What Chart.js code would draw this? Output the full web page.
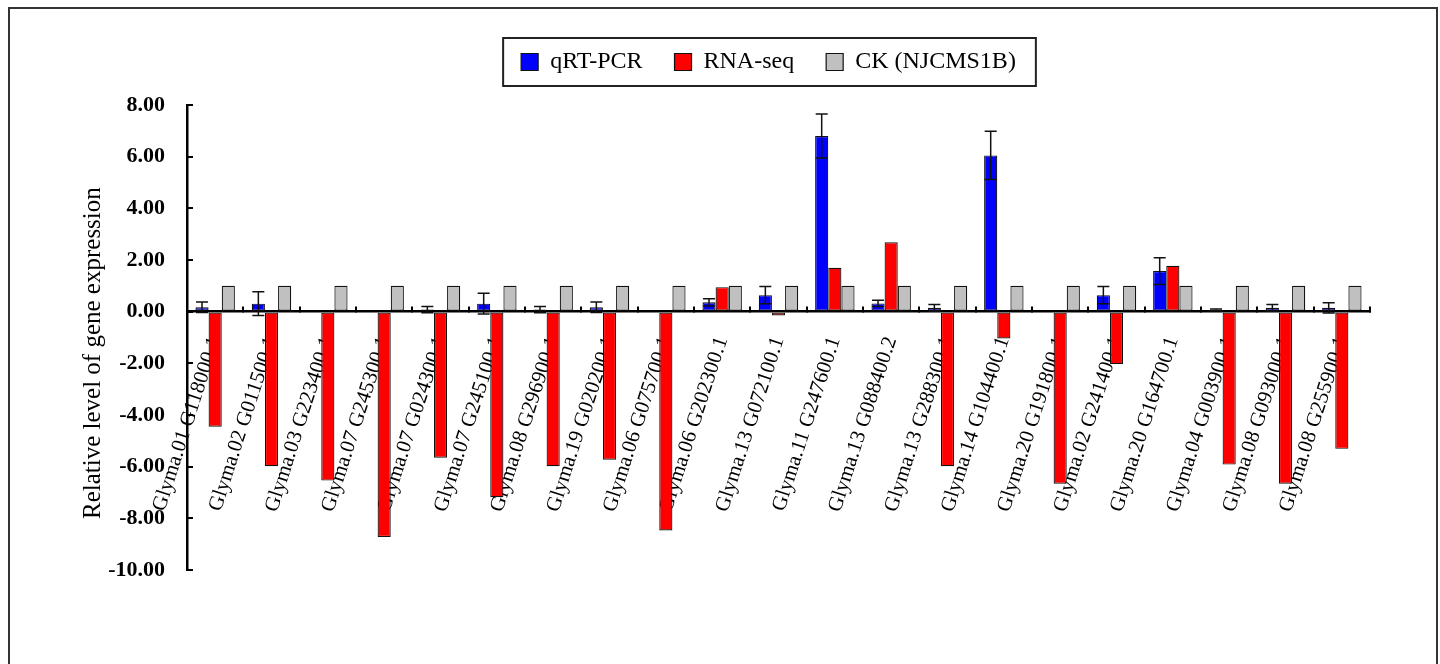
<!DOCTYPE html>
<html>
<head>
<meta charset="utf-8">
<title>Relative gene expression</title>
<script src="https://cdn.jsdelivr.net/npm/chart.js@4.4.1/dist/chart.umd.min.js"></script>
<style>
  html, body { margin: 0; padding: 0; background: #fff; }
  #wrap { position: relative; width: 1440px; height: 664px; overflow: hidden; }
  #frame { position: absolute; left: 8px; top: 7px; width: 1430px; height: 700px; border: 2px solid #333; box-sizing: border-box; }
  #chart { position: absolute; left: 0; top: 0; }
</style>
</head>
<body>
<div id="wrap">
  <div id="frame"></div>
  <canvas id="chart" width="1440" height="664"></canvas>
</div>
<script>
// gene ids on the x axis
const genes = [
  "Glyma.01 G118000.1", "Glyma.02 G011500.1", "Glyma.03 G223400.1", "Glyma.07 G245300.1",
  "Glyma.07 G024300.1", "Glyma.07 G245100.1", "Glyma.08 G296900.1", "Glyma.19 G020200.1",
  "Glyma.06 G075700.1", "Glyma.06 G202300.1", "Glyma.13 G072100.1", "Glyma.11 G247600.1",
  "Glyma.13 G088400.2", "Glyma.13 G288300.1", "Glyma.14 G104400.1", "Glyma.20 G191800.1",
  "Glyma.02 G241400.1", "Glyma.20 G164700.1", "Glyma.04 G003900.1", "Glyma.08 G093000.1",
  "Glyma.08 G255900.1"
];
const qrt    = [0.17, 0.31, 0, 0, 0.08, 0.31, 0.08, 0.17, 0, 0.36, 0.64, 6.80, 0.32, 0.15, 6.05, 0, 0.64, 1.57, 0.07, 0.15, 0.15];
const qrtErr = [0.20, 0.46, 0, 0, 0.12, 0.40, 0.12, 0.20, 0, 0.14, 0.33, 0.85, 0.12, 0.13, 0.93, 0, 0.33, 0.52, 0.03, 0.13, 0.20];
const rnaSeq = [-4.45, -5.98, -6.54, -8.72, -5.65, -7.18, -5.98, -5.73, -8.47, 0.95, -0.15, 1.70, 2.69, -5.98, -1.04, -6.66, -2.03, 1.78, -5.92, -6.66, -5.31];
const ck     = [1, 1, 1, 1, 1, 1, 1, 1, 1, 1, 1, 1, 1, 1, 1, 1, 1, 1, 1, 1, 1];
const yTicks = { min: -10, max: 8, step: 2 };

Chart.defaults.font.family = "'Liberation Serif', 'Times New Roman', serif";
Chart.defaults.color = '#000';

// error bars on the qRT-PCR bars
const errorBars = {
  id: 'errorBars',
  afterDatasetsDraw(chart) {
    const meta = chart.getDatasetMeta(0);
    const y = chart.scales.y;
    const ctx = chart.ctx;
    ctx.save();
    ctx.strokeStyle = '#111';
    ctx.lineWidth = 1.5;
    meta.data.forEach((bar, i) => {
      const e = qrtErr[i];
      if (!e) return;
      const top = y.getPixelForValue(qrt[i] + e);
      const bot = y.getPixelForValue(qrt[i] - e);
      ctx.beginPath();
      ctx.moveTo(bar.x, top); ctx.lineTo(bar.x, bot);
      ctx.moveTo(bar.x - 6, top); ctx.lineTo(bar.x + 6, top);
      ctx.moveTo(bar.x - 6, bot); ctx.lineTo(bar.x + 6, bot);
      ctx.stroke();
    });
    ctx.restore();
  }
};

// extra room under the legend, and nudge it a little left
const legendGap = {
  id: 'legendGap',
  beforeInit(chart) {
    const fit = chart.legend.fit;
    chart.legend.fit = function () {
      fit.call(this);
      this.height += 21;
    };
  },
  afterLayout(chart) {
    chart.legend.left -= 10;
    chart.legend.right -= 10;
  }
};

// box around the legend
const legendFrame = {
  id: 'legendFrame',
  afterDraw(chart) {
    const boxes = chart.legend && chart.legend.legendHitBoxes;
    if (!boxes || !boxes.length) return;
    const left = Math.min(...boxes.map(b => b.left));
    const right = Math.max(...boxes.map(b => b.left + b.width));
    const cy = boxes[0].top + boxes[0].height / 2;
    const ctx = chart.ctx;
    ctx.save();
    ctx.strokeStyle = '#222';
    ctx.lineWidth = 2;
    ctx.strokeRect(left - 18, cy - 24, right - left + 38, 48);
    ctx.restore();
  }
};

new Chart(document.getElementById('chart'), {
  type: 'bar',
  data: {
    labels: genes,
    datasets: [
      { label: 'qRT-PCR', data: qrt, backgroundColor: '#0000FF', borderColor: '#111', borderWidth: 1.2, borderSkipped: false },
      { label: 'RNA-seq', data: rnaSeq, backgroundColor: '#FF0000', borderColor: '#111', borderWidth: 1.2, borderSkipped: false },
      { label: 'CK (NJCMS1B)', data: ck, backgroundColor: '#C0C0C0', borderColor: '#111', borderWidth: 1.2, borderSkipped: false }
    ]
  },
  options: {
    responsive: false,
    animation: false,
    layout: { padding: { left: 0, top: 18, right: 70, bottom: 94 } },
    datasets: { bar: { categoryPercentage: 0.7, barPercentage: 1 } },
    plugins: {
      legend: {
        position: 'top',
        fullSize: false,
        labels: { color: '#000', font: { size: 24 }, boxWidth: 17, boxHeight: 17, padding: 32 }
      },
      tooltip: { enabled: false }
    },
    scales: {
      x: {
        position: { y: 0 },
        offset: true,
        z: 1,
        grid: { display: true, offset: true, drawOnChartArea: false, tickLength: -6, color: '#000', lineWidth: 2 },
        border: { display: true, color: '#000', width: 2.5 },
        ticks: { autoSkip: false, minRotation: 72, maxRotation: 72, padding: 28, color: '#000', font: { size: 21 } }
      },
      y: {
        min: yTicks.min,
        max: yTicks.max,
        afterFit(scale) { scale.width = 187; },
        grid: { drawOnChartArea: false, tickLength: -6, color: '#000', lineWidth: 2 },
        border: { display: true, color: '#000', width: 2.5 },
        ticks: { stepSize: yTicks.step, padding: 28, color: '#000', font: { size: 22, weight: 'bold' }, callback: v => v.toFixed(2) },
        title: { display: true, text: 'Relative level of gene expression     ', color: '#000', font: { size: 25 }, padding: { top: 78, bottom: 0 } }
      }
    }
  },
  plugins: [errorBars, legendGap, legendFrame]
});
</script>
</body>
</html>
